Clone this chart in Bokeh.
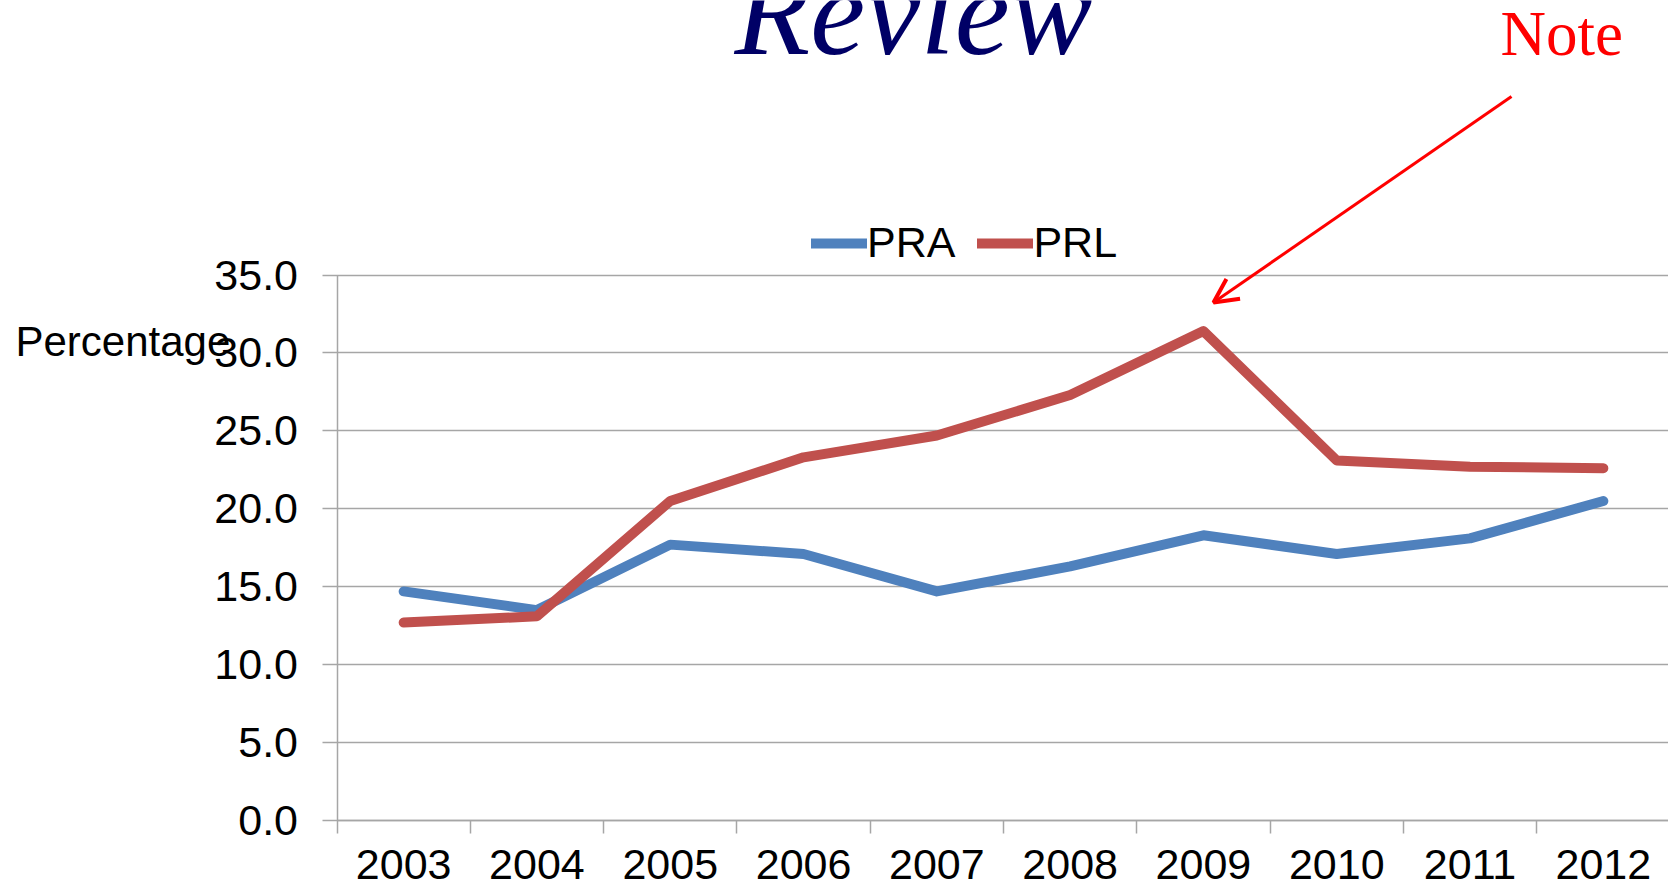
from bokeh.plotting import figure
from bokeh.models import (Range1d, FixedTicker, Legend, LegendItem, Label, Arrow,
                          OpenHead, PrintfTickFormatter)
from bokeh.embed import file_html
from bokeh.resources import INLINE

# ---- data ----
years = [2003, 2004, 2005, 2006, 2007, 2008, 2009, 2010, 2011, 2012]
year_labels = ["2003", "2004", "2005", "2006", "2007", "2008", "2009", "2010", "2011", "2012"]
pra = [14.7, 13.5, 17.7, 17.1, 14.7, 16.3, 18.3, 17.1, 18.1, 20.5]
prl = [12.7, 13.1, 20.5, 23.3, 24.7, 27.3, 31.4, 23.1, 22.7, 22.6]
y_ticks = [0, 5, 10, 15, 20, 25, 30, 35]
series_names = ["PRA", "PRL"]
title_text = "Review"
note_text = "Note"
y_label_text = "Percentage"

# ---- styles / layout (pixels) ----
BLUE = "#4F81BD"
RED = "#C0504D"
GRID = "#a6a6a6"
FONT = "Liberation Sans"
W, H = 1668, 889
AXIS_X_PX = 336.5      # y-axis position
AXIS_Y_PX = 820        # x-axis position (value 0)
TOP_PX = 274.5         # position of top tick
CAT_PX = 133.3         # width of one category

px_per_unit = (AXIS_Y_PX - TOP_PX) / (y_ticks[-1] - y_ticks[0])
y_start = y_ticks[0] - (H - AXIS_Y_PX) / px_per_unit
y_end = y_ticks[0] + AXIS_Y_PX / px_per_unit
x_first = years[0] - 0.5
x_start = x_first - AXIS_X_PX / CAT_PX
x_end = x_first + (W - AXIS_X_PX) / CAT_PX

boundaries = [y - 0.5 for y in years] + [years[-1] + 0.5]

p = figure(width=W, height=H, output_backend="svg", toolbar_location=None,
           x_range=Range1d(x_start, x_end), y_range=Range1d(y_start, y_end),
           min_border_left=0, min_border_right=0, min_border_top=0, min_border_bottom=0)
p.outline_line_color = None
p.xgrid.visible = False
p.ygrid.visible = False

r1 = p.line(years, pra, line_color=BLUE, line_width=10, line_join="round", line_cap="round")
r2 = p.line(years, prl, line_color=RED, line_width=10, line_join="round", line_cap="round")

# x axis: labels at category centres, ticks at category boundaries
xa = p.xaxis[0]
xa.fixed_location = y_ticks[0]
xa.bounds = (boundaries[0], boundaries[-1])
xa.ticker = FixedTicker(ticks=years, minor_ticks=boundaries)
xa.major_label_overrides = {y: s for y, s in zip(years, year_labels)}
xa.major_tick_out = 0
xa.major_tick_in = 0
xa.minor_tick_out = 13
xa.minor_tick_in = 0
xa.minor_tick_line_color = GRID
xa.minor_tick_line_width = 1.5
xa.axis_line_color = GRID
xa.axis_line_width = 1.5
xa.major_label_text_font = FONT
xa.major_label_text_font_size = "43px"
xa.major_label_text_color = "black"
xa.major_label_standoff = 16

# y axis: its ticks run across the plot as the horizontal grid lines
ya = p.yaxis[0]
ya.fixed_location = boundaries[0]
ya.bounds = (y_ticks[0], y_ticks[-1])
ya.level = "underlay"
ya.ticker = FixedTicker(ticks=y_ticks)
ya.formatter = PrintfTickFormatter(format="%.1f")
ya.major_tick_out = 15
ya.major_tick_in = int(W - AXIS_X_PX + 1)
ya.minor_tick_line_color = None
ya.major_tick_line_color = GRID
ya.major_tick_line_width = 1.5
ya.axis_line_color = GRID
ya.axis_line_width = 1.5
ya.major_label_text_font = FONT
ya.major_label_text_font_size = "43px"
ya.major_label_text_color = "black"
ya.major_label_standoff = 24

legend = Legend(items=[LegendItem(label=series_names[0], renderers=[r1]),
                       LegendItem(label=series_names[1], renderers=[r2])],
                orientation="horizontal", location=(811, H - 267),
                label_text_font=FONT, label_text_font_size="43px",
                label_text_color="black",
                label_standoff=0, spacing=22, glyph_width=56, glyph_height=44,
                label_height=44, padding=0, margin=0,
                border_line_color=None, background_fill_alpha=0)
p.add_layout(legend, "center")

p.add_layout(Label(x=15, y=H - 354 + 13, x_units="screen", y_units="screen", text=y_label_text,
                   text_font=FONT, text_font_size="42px", text_color="black",
                   text_baseline="alphabetic"))

p.add_layout(Label(x=913, y=H - 53 + 41, x_units="screen", y_units="screen", text=title_text,
                   text_font="Liberation Serif", text_font_style="italic",
                   text_font_size="124px", text_color="#000066",
                   text_align="center", text_baseline="alphabetic"))

p.add_layout(Label(x=1500, y=H - 54 + 21, x_units="screen", y_units="screen", text=note_text,
                   text_font="Liberation Serif", text_font_size="63px", text_color="red",
                   text_align="left", text_baseline="alphabetic"))

p.add_layout(Arrow(x_start=1511, y_start=H - 96, x_end=1213, y_end=H - 302,
                   start_units="screen", end_units="screen",
                   line_color="red", line_width=3,
                   end=OpenHead(size=24, line_color="red", line_width=4)))

open("out.html", "w").write(file_html(p, INLINE))
